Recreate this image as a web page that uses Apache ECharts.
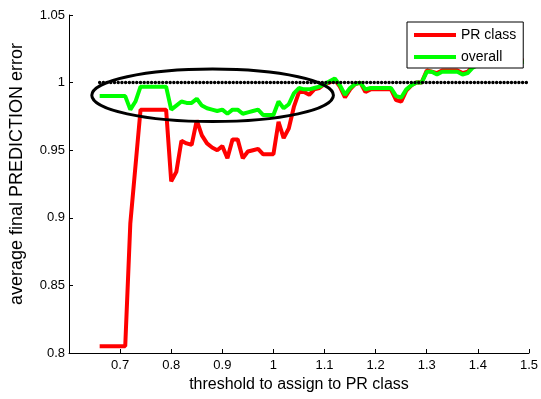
<!DOCTYPE html>
<html><head><meta charset="utf-8">
<script src="https://cdn.jsdelivr.net/npm/echarts@6/dist/echarts.min.js"></script>
<style>html,body{margin:0;padding:0;background:#fff}#c{width:541px;height:399px}</style>
</head><body><div id="c"></div>
<script>
const thresholds = [0.66,0.67,0.68,0.69,0.70,0.71,0.72,0.73,0.74,0.75,0.76,0.77,0.78,0.79,
  0.80,0.81,0.82,0.83,0.84,0.85,0.86,0.87,0.88,0.89,0.90,0.91,0.92,0.93,0.94,0.95,0.96,0.97,0.98,0.99,
  1.00,1.01,1.02,1.03,1.04,1.05,1.06,1.07,1.08,1.09,1.10,1.11,1.12,1.13,1.14,1.15,1.16,1.17,1.18,1.19,
  1.20,1.21,1.22,1.23,1.24,1.25,1.26,1.27,1.28,1.29,1.30,1.31,1.32,1.33,1.34,1.35,1.36,1.37,1.38,1.39,
  1.40,1.41,1.42,1.43,1.44,1.45,1.46,1.47,1.48,1.49];
const prClass = [0.805,0.805,0.805,0.805,0.805,0.805,0.896,0.938,0.980,0.980,0.980,0.980,0.980,0.980,
  0.927,0.934,0.957,0.955,0.954,0.972,0.961,0.955,0.952,0.950,0.953,0.944,0.958,0.958,0.944,0.949,0.950,0.951,0.947,0.947,
  0.947,0.971,0.959,0.966,0.982,0.993,0.993,0.991,0.995,0.996,0.999,1.000,1.002,0.997,0.989,0.995,0.999,1.000,0.993,0.995,
  0.995,0.995,0.995,0.995,0.987,0.986,0.994,0.998,1.000,1.000,1.009,1.008,1.007,1.009,1.009,1.009,1.009,1.007,1.008,1.012,
  1.014,1.015,1.015,1.015,1.016,1.016,1.016,1.016,1.016,1.0165];
const overall = [0.990,0.990,0.990,0.990,0.990,0.990,0.980,0.986,0.997,0.997,0.997,0.997,0.997,0.997,
  0.980,0.983,0.986,0.985,0.985,0.988,0.983,0.981,0.980,0.979,0.980,0.977,0.980,0.980,0.977,0.978,0.979,0.980,0.976,0.976,
  0.976,0.986,0.981,0.984,0.992,0.996,0.995,0.995,0.996,0.997,0.999,1.001,1.003,0.998,0.991,0.996,0.999,1.000,0.995,0.996,
  0.996,0.996,0.996,0.996,0.990,0.989,0.995,0.998,1.000,1.000,1.008,1.008,1.006,1.008,1.008,1.008,1.008,1.006,1.007,1.011,
  1.013,1.014,1.014,1.014,1.015,1.015,1.015,1.015,1.015,1.0155];
const referenceX = [0.66, 1.495];
const referenceY = [1.0, 1.0];
const seriesNames = ['PR class', 'overall'];
// annotation ellipse (data units)
const ellipseCenter = [0.881, 0.9906];
const ellipseRadii = [0.2364, 0.01945];

const font = '"Liberation Sans", Arial, Helvetica, sans-serif';
const chart = echarts.init(document.getElementById('c'), null, {renderer: 'canvas'});
const zip = (xs, ys) => xs.map((x, i) => [x, ys[i]]);

chart.setOption({
  animation: false,
  backgroundColor: '#fff',
  grid: {left: 69, right: 11, top: 15, bottom: 46, containLabel: false},
  xAxis: {
    type: 'value', min: 0.6, max: 1.5, interval: 0.1,
    name: 'threshold to assign to PR class', nameLocation: 'middle', nameGap: 22,
    nameTextStyle: {fontFamily: font, fontSize: 16, color: '#000'},
    axisLine: {show: true, lineStyle: {color: '#000', width: 1}},
    axisTick: {show: true, inside: true, length: 4, lineStyle: {color: '#000'}},
    axisLabel: {fontFamily: font, fontSize: 13, color: '#000', margin: 6,
      formatter: v => (Math.abs(v - 0.6) < 1e-6 ? '' : String(+v.toFixed(2)))},
    splitLine: {show: false}
  },
  yAxis: {
    type: 'value', min: 0.8, max: 1.05, interval: 0.05,
    name: 'average final PREDICTION error', nameLocation: 'middle', nameGap: 43,
    nameTextStyle: {fontFamily: font, fontSize: 18, color: '#000', padding: [0, 0, 0, 20]},
    axisLine: {show: true, lineStyle: {color: '#000', width: 1}},
    axisTick: {show: true, inside: true, length: 4, lineStyle: {color: '#000'}},
    axisLabel: {fontFamily: font, fontSize: 13, color: '#000', margin: 4,
      formatter: v => String(+v.toFixed(2))},
    splitLine: {show: false}
  },
  legend: {
    orient: 'vertical', left: 407, top: 22,
    data: [{name: seriesNames[0], icon: 'rect'}, {name: seriesNames[1], icon: 'rect'}],
    itemWidth: 42, itemHeight: 4, itemGap: 8,
    padding: [6, 7, 4, 7],
    backgroundColor: '#fff', borderColor: '#000', borderWidth: 1, borderRadius: 0,
    textStyle: {fontFamily: font, fontSize: 14, color: '#000'},
    selectedMode: false
  },
  series: [
    {name: seriesNames[0], type: 'line', data: zip(thresholds, prClass), showSymbol: false, symbol: 'none',
      lineStyle: {color: '#ff0000', width: 4}, itemStyle: {color: '#ff0000'}, z: 2},
    {name: seriesNames[1], type: 'line', data: zip(thresholds, overall), showSymbol: false, symbol: 'none',
      lineStyle: {color: '#00ff00', width: 4}, itemStyle: {color: '#00ff00'}, z: 3},
    {name: 'reference', type: 'line', data: zip(referenceX, referenceY), showSymbol: false, symbol: 'none',
      lineStyle: {color: '#000', width: 3.5, type: [0.01, 3.7], cap: 'round'}, z: 4}
  ]
});

const c = chart.convertToPixel({gridIndex: 0}, ellipseCenter);
const e = chart.convertToPixel({gridIndex: 0}, [ellipseCenter[0] + ellipseRadii[0], ellipseCenter[1] + ellipseRadii[1]]);
chart.setOption({
  graphic: [{
    type: 'ellipse', z: 10,
    shape: {cx: c[0], cy: c[1], rx: Math.abs(e[0] - c[0]), ry: Math.abs(e[1] - c[1])},
    style: {fill: null, stroke: '#000', lineWidth: 3}
  }]
});
</script>
</body></html>
